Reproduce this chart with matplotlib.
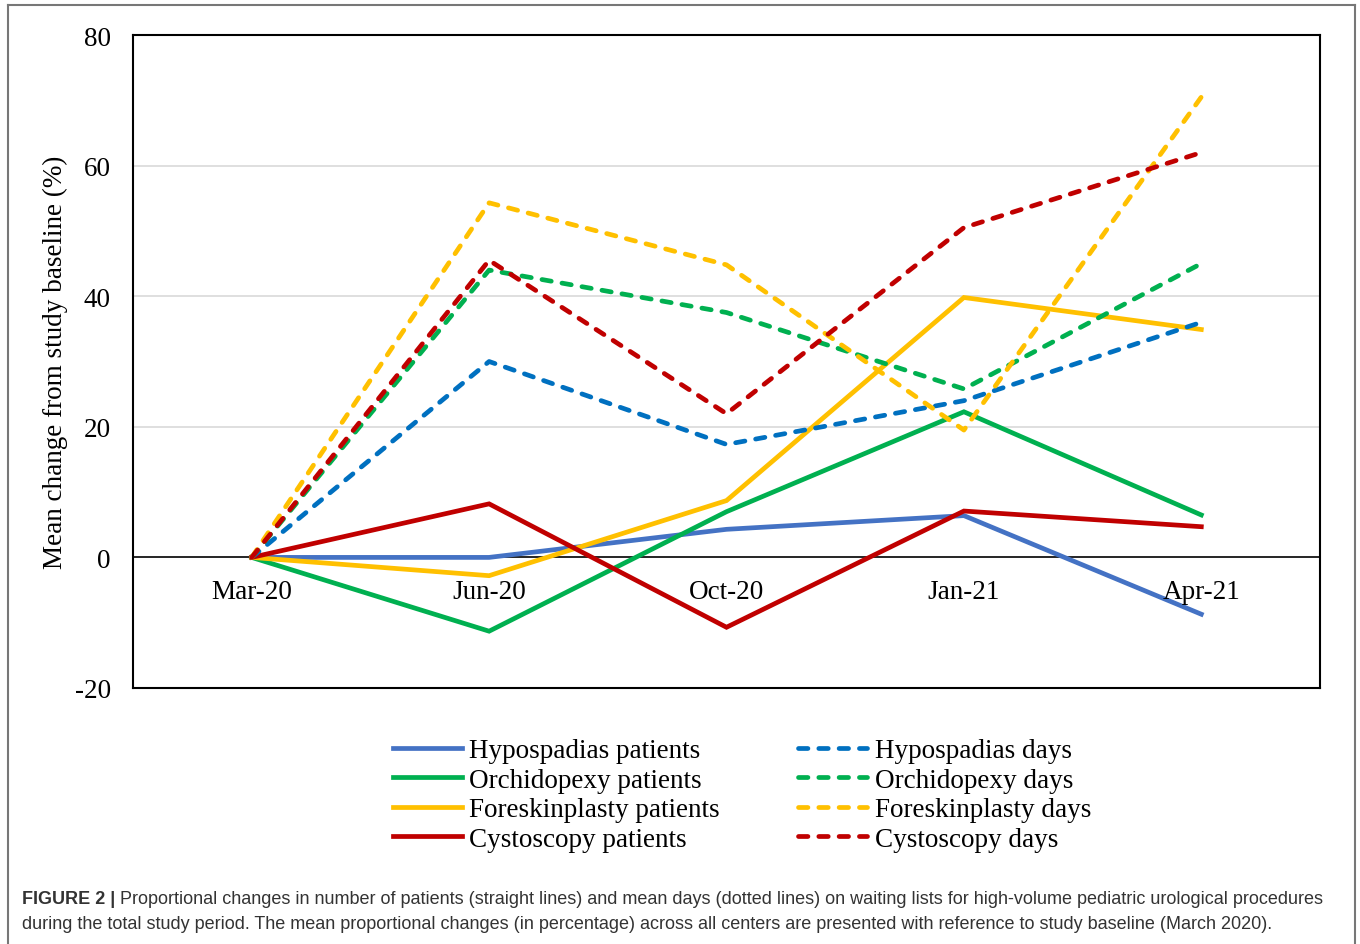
import matplotlib
matplotlib.use("Agg")
import matplotlib.pyplot as plt
from matplotlib.lines import Line2D

categories = ["Mar-20", "Jun-20", "Oct-20", "Jan-21", "Apr-21"]
hypo_patients = [0, 0, 4.3, 6.4, -8.7]
orchi_patients = [0, -11.3, 7.0, 22.3, 6.5]
foreskin_patients = [0, -2.8, 8.7, 39.8, 34.9]
cysto_patients = [0, 8.2, -10.7, 7.1, 4.7]
hypo_days = [0, 30.0, 17.3, 24.0, 36.0]
orchi_days = [0, 44.0, 37.5, 25.8, 45.0]
foreskin_days = [0, 54.3, 44.8, 19.5, 70.5]
cysto_days = [0, 45.5, 22.0, 50.5, 62.0]
yticks = [-20, 0, 20, 40, 60, 80]

serif = ["Liberation Serif", "DejaVu Serif"]
sans = ["Liberation Sans", "DejaVu Sans"]
FS = 19.5

fig = plt.figure(figsize=(13.6, 9.45), dpi=100)
ax = fig.add_axes([133/1360, 1-689/945, (1320-133)/1360, (689-36)/945])

x = list(range(len(categories)))
lw = 3.4
solid = [
    (hypo_patients, "#4472C4", "Hypospadias patients"),
    (orchi_patients, "#00B050", "Orchidopexy patients"),
    (foreskin_patients, "#FFC000", "Foreskinplasty patients"),
    (cysto_patients, "#C00000", "Cystoscopy patients"),
]
dashed = [
    (hypo_days, "#0070C0", "Hypospadias days"),
    (orchi_days, "#00B050", "Orchidopexy days"),
    (foreskin_days, "#FFC000", "Foreskinplasty days"),
    (cysto_days, "#C00000", "Cystoscopy days"),
]

ax.set_xlim(-0.5, len(categories) - 0.5)
ax.set_ylim(-20, 80)
for v in [20, 40, 60]:
    ax.axhline(v, color="#D9D9D9", lw=1.2, zorder=0)
ax.axhline(0, color="black", lw=1.2, zorder=1)

handles = []
for vals, c, lab in solid:
    h, = ax.plot(x, vals, color=c, lw=lw, solid_joinstyle="miter", label=lab, zorder=3)
    handles.append(h)
for vals, c, lab in dashed:
    h, = ax.plot(x, vals, color=c, lw=lw, ls=(0, (2.0, 2.3)), dash_capstyle="round",
                 label=lab, zorder=3)
    handles.append(h)

ax.set_xticks([])
ax.set_yticks(yticks)
ax.set_yticklabels([str(t) for t in yticks], fontfamily=serif, fontsize=FS)
ax.tick_params(axis="y", length=0, pad=16)
for i, cat in enumerate(categories):
    ax.annotate(cat, (i, 0), xytext=(0, -24.5), textcoords="offset points",
                ha="center", va="center", fontfamily=serif, fontsize=FS)
for s in ax.spines.values():
    s.set_linewidth(1.5)
    s.set_color("black")
ax.set_ylabel("Mean change from study baseline (%)", fontfamily=serif, fontsize=FS, labelpad=5)

leg = fig.legend(handles=handles, loc="center", bbox_to_anchor=(742/1360, 1-796/945),
                 ncol=2, frameon=False, prop={"family": serif, "size": FS},
                 handlelength=2.55, handletextpad=0.28, columnspacing=2.9,
                 labelspacing=0.17, borderpad=0)

# outer frame (open at the bottom)
fc = "#777777"
fig.add_artist(Line2D([8/1360, 8/1360], [0, 1-6/945], transform=fig.transFigure, color=fc, lw=1.5))
fig.add_artist(Line2D([1355/1360, 1355/1360], [0, 1-6/945], transform=fig.transFigure, color=fc, lw=1.5))
fig.add_artist(Line2D([8/1360, 1355/1360], [1-6/945, 1-6/945], transform=fig.transFigure, color=fc, lw=1.5))

cap1_bold = "FIGURE 2 |"
cap1 = (" Proportional changes in number of patients (straight lines) and mean days (dotted lines) "
        "on waiting lists for high-volume pediatric urological procedures")
cap2 = ("during the total study period. The mean proportional changes (in percentage) across all centers "
        "are presented with reference to study baseline (March 2020).")
CFS = 12.95
t = fig.text(22/1360, 1-900/945, cap1_bold, fontfamily=sans, fontsize=CFS, fontweight="bold",
             color="#333333", va="center", ha="left")
fig.canvas.draw()
bb = t.get_window_extent()
fig.text(bb.x1/1360, 1-900/945, cap1, fontfamily=sans, fontsize=CFS, color="#333333",
         va="center", ha="left")
fig.text(22/1360, 1-925/945, cap2, fontfamily=sans, fontsize=CFS, color="#333333",
         va="center", ha="left")

fig.savefig("out.png", dpi=100)
